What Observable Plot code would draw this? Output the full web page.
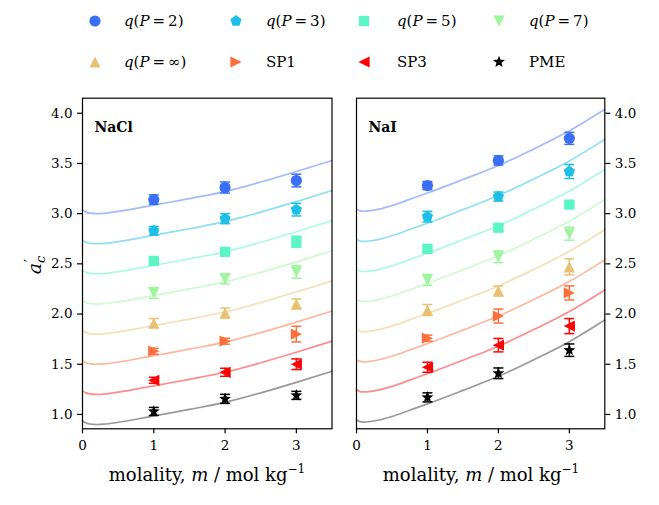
<!DOCTYPE html>
<html><head><meta charset="utf-8">
<script src="https://cdn.jsdelivr.net/npm/d3@7"></script>
<script src="https://cdn.jsdelivr.net/npm/@observablehq/plot@0.6"></script>
<style>
body{margin:0;background:#fff;}
#wrap{position:relative;width:659px;height:505px;font-family:"DejaVu Serif",serif;color:#000;overflow:hidden;background:#fff}
.abs{position:absolute;white-space:nowrap}
.leg{font-size:15px;line-height:22px}
svg text{font-family:"DejaVu Serif",serif}
</style></head><body><div id="wrap"></div>
<script>
// ---------- data ----------
const seriesLabels = ["q(P = 2)", "q(P = 3)", "q(P = 5)", "q(P = 7)", "q(P = ∞)", "SP1", "SP3", "PME"];
const markerColors = ["#3a6ef5", "#1ebfe6", "#5cf5c5", "#9ef59e", "#e8c272", "#ff6d3b", "#ff0000", "#000000"];
const lineColors = ["#a3bbf8", "#8edff2", "#adfae2", "#cefacf", "#f3e0b8", "#ffb69d", "#ff8c8c", "#999999"];
const xTicks = [0, 1, 2, 3];
const yTicks = [1.0, 1.5, 2.0, 2.5, 3.0, 3.5, 4.0];
const pointM = [1, 2, 3];

// NaCl measured points and error bars
const naclQ2 = [3.14, 3.26, 3.33],  naclQ2Err = [0.047, 0.055, 0.063];
const naclQ3 = [2.83, 2.95, 3.04],  naclQ3Err = [0.043, 0.050, 0.063];
const naclQ5 = [2.53, 2.62, 2.72],  naclQ5Err = [0.030, 0.030, 0.055];
const naclQ7 = [2.21, 2.35, 2.42],  naclQ7Err = [0.053, 0.050, 0.063];
const naclQinf = [1.91, 2.01, 2.10], naclQinfErr = [0.045, 0.050, 0.050];
const naclSP1 = [1.63, 1.73, 1.80], naclSP1Err = [0.030, 0.030, 0.078];
const naclSP3 = [1.34, 1.42, 1.50], naclSP3Err = [0.030, 0.040, 0.053];
const naclPME = [1.03, 1.155, 1.19], naclPMEErr = [0.040, 0.045, 0.040];

// NaI measured points and error bars
const naiQ2 = [3.28, 3.53, 3.75],  naiQ2Err = [0.040, 0.045, 0.060];
const naiQ3 = [2.97, 3.17, 3.42],  naiQ3Err = [0.053, 0.045, 0.070];
const naiQ5 = [2.65, 2.86, 3.09],  naiQ5Err = [0.030, 0.030, 0.030];
const naiQ7 = [2.34, 2.57, 2.80],  naiQ7Err = [0.055, 0.058, 0.065];
const naiQinf = [2.04, 2.23, 2.47], naiQinfErr = [0.055, 0.050, 0.080];
const naiSP1 = [1.76, 1.98, 2.21], naiSP1Err = [0.030, 0.070, 0.070];
const naiSP3 = [1.47, 1.69, 1.88], naiSP3Err = [0.050, 0.067, 0.075];
const naiPME = [1.17, 1.41, 1.64], naiPMEErr = [0.045, 0.053, 0.062];

// fitted curves
const curveM = [0, 0.05, 0.1, 0.2, 0.3, 0.5, 0.75, 1, 1.5, 2, 2.5, 3, 3.5];
const naclCurveQ2   = [3.035, 3.015, 3.005, 3.000, 3.003, 3.022, 3.052, 3.085, 3.150, 3.220, 3.315, 3.420, 3.530];
const naclCurveQ3   = [2.735, 2.715, 2.705, 2.700, 2.703, 2.722, 2.752, 2.785, 2.850, 2.920, 3.015, 3.120, 3.230];
const naclCurveQ5   = [2.435, 2.415, 2.405, 2.400, 2.403, 2.422, 2.452, 2.485, 2.550, 2.620, 2.715, 2.820, 2.930];
const naclCurveQ7   = [2.135, 2.115, 2.105, 2.100, 2.103, 2.122, 2.152, 2.185, 2.250, 2.320, 2.415, 2.520, 2.630];
const naclCurveQinf = [1.835, 1.815, 1.805, 1.800, 1.803, 1.822, 1.852, 1.885, 1.950, 2.020, 2.115, 2.220, 2.330];
const naclCurveSP1  = [1.535, 1.515, 1.505, 1.500, 1.503, 1.522, 1.552, 1.585, 1.650, 1.720, 1.815, 1.920, 2.030];
const naclCurveSP3  = [1.235, 1.215, 1.205, 1.200, 1.203, 1.222, 1.252, 1.285, 1.350, 1.420, 1.515, 1.620, 1.730];
const naclCurvePME  = [0.935, 0.915, 0.905, 0.900, 0.903, 0.922, 0.952, 0.985, 1.050, 1.120, 1.215, 1.320, 1.430];

const naiCurveQ2   = [3.045, 3.028, 3.024, 3.030, 3.042, 3.080, 3.142, 3.205, 3.340, 3.480, 3.645, 3.825, 4.040];
const naiCurveQ3   = [2.745, 2.728, 2.724, 2.730, 2.742, 2.780, 2.842, 2.905, 3.040, 3.180, 3.345, 3.525, 3.740];
const naiCurveQ5   = [2.445, 2.428, 2.424, 2.430, 2.442, 2.480, 2.542, 2.605, 2.740, 2.880, 3.045, 3.225, 3.440];
const naiCurveQ7   = [2.145, 2.128, 2.124, 2.130, 2.142, 2.180, 2.242, 2.305, 2.440, 2.580, 2.745, 2.925, 3.140];
const naiCurveQinf = [1.845, 1.828, 1.824, 1.830, 1.842, 1.880, 1.942, 2.005, 2.140, 2.280, 2.445, 2.625, 2.840];
const naiCurveSP1  = [1.545, 1.528, 1.524, 1.530, 1.542, 1.580, 1.642, 1.705, 1.840, 1.980, 2.145, 2.325, 2.540];
const naiCurveSP3  = [1.245, 1.228, 1.224, 1.230, 1.242, 1.280, 1.342, 1.405, 1.540, 1.680, 1.845, 2.025, 2.240];
const naiCurvePME  = [0.945, 0.928, 0.924, 0.930, 0.942, 0.980, 1.042, 1.105, 1.240, 1.380, 1.545, 1.725, 1.940];

// ---------- symbols ----------
function sr(size){ return Math.sqrt(size / Math.PI); }
const circleSym = {draw(ctx, size){ const r = sr(size); ctx.moveTo(r, 0); ctx.arc(0, 0, r, 0, 2 * Math.PI); }};
function polySym(n, rot, k){ return {draw(ctx, size){ const R = sr(size) * k;
  for (let i = 0; i < n; i++){ const a = rot + 2 * Math.PI * i / n; const x = R * Math.cos(a), y = R * Math.sin(a); if (i === 0) ctx.moveTo(x, y); else ctx.lineTo(x, y); }
  ctx.closePath(); }}; }
function triSym(dir, k){ return {draw(ctx, size){ const h = sr(size) * k; let pts;
  if (dir === "up") pts = [[0, -h], [h, h], [-h, h]];
  else if (dir === "down") pts = [[0, h], [h, -h], [-h, -h]];
  else if (dir === "right") pts = [[h, 0], [-h, h], [-h, -h]];
  else pts = [[-h, 0], [h, h], [h, -h]];
  ctx.moveTo(pts[0][0], pts[0][1]); ctx.lineTo(pts[1][0], pts[1][1]); ctx.lineTo(pts[2][0], pts[2][1]); ctx.closePath(); }}; }
const squareSym = {draw(ctx, size){ const h = sr(size) * 0.92; ctx.rect(-h, -h, 2 * h, 2 * h); }};
const starSym = {draw(ctx, size){ const R = sr(size) * 1.12, r = R * 0.42;
  for (let i = 0; i < 10; i++){ const a = -Math.PI / 2 + Math.PI * i / 5; const rr = i % 2 ? r : R; const x = rr * Math.cos(a), y = rr * Math.sin(a); if (i === 0) ctx.moveTo(x, y); else ctx.lineTo(x, y); }
  ctx.closePath(); }};
const capSym = {draw(ctx, size){ const r = sr(size); ctx.moveTo(-r, 0); ctx.lineTo(r, 0); }};
const symbols = [circleSym, polySym(5, -Math.PI / 2, 1.05), squareSym, triSym("down", 1.0), triSym("up", 1.0), triSym("right", 1.0), triSym("left", 1.0), starSym];

// ---------- layout ----------
const wrap = document.getElementById("wrap");
const FONT = "'DejaVu Serif', serif";
const yDomain = [0.857, 4.15];
const xDomain = [0, 3.5];

function makePanel(salt, points, errs, curves, side, opts){
  const marks = [];
  curves.forEach((c, i) => {
    marks.push(Plot.line(curveM.map((m, j) => ({m, v: c[j]})), {x: "m", y: "v", stroke: lineColors[i], strokeWidth: 1.7, curve: "monotone-x"}));
  });
  points.forEach((p, i) => {
    const rows = pointM.map((m, j) => ({m, v: p[j], e: errs[i][j]}));
    marks.push(Plot.ruleX(rows, {x: "m", y1: d => d.v - d.e, y2: d => d.v + d.e, stroke: markerColors[i], strokeWidth: 1.5}));
    marks.push(Plot.dot(rows, {x: "m", y: d => d.v + d.e, symbol: capSym, r: 5, stroke: markerColors[i], strokeWidth: 1.5, fill: "none"}));
    marks.push(Plot.dot(rows, {x: "m", y: d => d.v - d.e, symbol: capSym, r: 5, stroke: markerColors[i], strokeWidth: 1.5, fill: "none"}));
    marks.push(Plot.dot(rows, {x: "m", y: "v", symbol: symbols[i], r: 5.6, fill: markerColors[i], stroke: "none"}));
  });
  marks.push(Plot.text([salt], {frameAnchor: "top-left", dx: 12, dy: 29, lineAnchor: "middle", textAnchor: "start", fontWeight: "bold", fontSize: 14, fill: "#000", fontFamily: FONT}));
  marks.push(Plot.axisX({ticks: xTicks, tickFormat: d3.format("d"), tickSize: 5, tickPadding: 7, fontSize: 13.5, label: null, strokeWidth: 1.2, fontFamily: FONT}));
  marks.push(Plot.axisY({anchor: side, ticks: yTicks, tickFormat: d3.format(".1f"), tickSize: 5, tickPadding: 5, fontSize: 13.5, label: null, strokeWidth: 1.2, fontFamily: FONT}));
  marks.push(Plot.frame({stroke: "#000", strokeWidth: 1.2}));
  const svg = Plot.plot({
    width: opts.width, height: opts.height,
    marginLeft: opts.ml, marginRight: opts.mr, marginTop: opts.mt, marginBottom: opts.mb,
    x: {domain: xDomain}, y: {domain: yDomain},
    style: {fontFamily: FONT, fontSize: "13.5px", color: "#000", background: "transparent", overflow: "visible"},
    marks
  });
  svg.style.position = "absolute";
  svg.style.left = opts.left + "px";
  svg.style.top = opts.top + "px";
  return svg;
}

const naclPoints = [naclQ2, naclQ3, naclQ5, naclQ7, naclQinf, naclSP1, naclSP3, naclPME];
const naclErrs = [naclQ2Err, naclQ3Err, naclQ5Err, naclQ7Err, naclQinfErr, naclSP1Err, naclSP3Err, naclPMEErr];
const naclCurves = [naclCurveQ2, naclCurveQ3, naclCurveQ5, naclCurveQ7, naclCurveQinf, naclCurveSP1, naclCurveSP3, naclCurvePME];
const naiPoints = [naiQ2, naiQ3, naiQ5, naiQ7, naiQinf, naiSP1, naiSP3, naiPME];
const naiErrs = [naiQ2Err, naiQ3Err, naiQ5Err, naiQ7Err, naiQinfErr, naiSP1Err, naiSP3Err, naiPMEErr];
const naiCurves = [naiCurveQ2, naiCurveQ3, naiCurveQ5, naiCurveQ7, naiCurveQinf, naiCurveSP1, naiCurveSP3, naiCurvePME];

wrap.appendChild(makePanel("NaCl", naclPoints, naclErrs, naclCurves, "left",
  {left: 0, top: 88, width: 340, height: 417, ml: 82, mr: 8.5, mt: 9.7, mb: 76.7}));
wrap.appendChild(makePanel("NaI", naiPoints, naiErrs, naiCurves, "right",
  {left: 340, top: 88, width: 319, height: 417, ml: 16, mr: 54.7, mt: 9.7, mb: 76.7}));

// ---------- text labels ----------
function fmtLabel(s){
  if (s.startsWith("q(")) return s.replace(/^q\(P/, "<i>q</i>(<i>P</i>").replace(" = ", "&#8201;=&#8201;");
  return s;
}
function addDiv(html, css){ const d = document.createElement("div"); d.className = "abs"; d.innerHTML = html; Object.assign(d.style, css); wrap.appendChild(d); return d; }

const xLabelHTML = "molality, <i>m</i> / mol kg<sup style='font-size:12px;vertical-align:8px;line-height:0'>−1</sup>";
addDiv(xLabelHTML, {left: "207px", top: "462px", transform: "translateX(-50%)", fontSize: "18px", lineHeight: "26px"});
addDiv(xLabelHTML, {left: "481px", top: "462px", transform: "translateX(-50%)", fontSize: "18px", lineHeight: "26px"});

// y label as SVG text
const ySvg = document.createElementNS("http://www.w3.org/2000/svg", "svg");
ySvg.setAttribute("width", 40); ySvg.setAttribute("height", 60);
ySvg.style.position = "absolute"; ySvg.style.left = "13px"; ySvg.style.top = "235px";
ySvg.innerHTML = "<text transform='translate(28,30) rotate(-90)' text-anchor='middle' font-size='19'>" +
  "<tspan font-style='italic'>a</tspan><tspan font-size='13' dy='-7' dx='1'>′</tspan><tspan font-size='13' font-style='italic' dx='-4' dy='11'>c</tspan></text>";
wrap.appendChild(ySvg);

// ---------- legend ----------
const legX = [95, 236, 364, 499];
const legTextX = [124, 266, 397, 529];
const legY = [21, 62];
seriesLabels.forEach((lab, i) => {
  const col = i % 4, row = Math.floor(i / 4);
  const mx = legX[col], my = legY[row];
  const s = document.createElementNS("http://www.w3.org/2000/svg", "svg");
  s.setAttribute("width", 20); s.setAttribute("height", 20);
  s.style.position = "absolute"; s.style.left = (mx - 10) + "px"; s.style.top = (my - 10) + "px";
  const p = document.createElementNS("http://www.w3.org/2000/svg", "path");
  p.setAttribute("d", d3.symbol(symbols[i], Math.PI * 5.6 * 5.6)());
  p.setAttribute("transform", "translate(10,10)");
  p.setAttribute("fill", markerColors[i]);
  s.appendChild(p);
  wrap.appendChild(s);
  const d = addDiv(fmtLabel(lab), {left: legTextX[col] + "px", top: (my - 11) + "px"});
  d.classList.add("leg");
});
</script></body></html>
